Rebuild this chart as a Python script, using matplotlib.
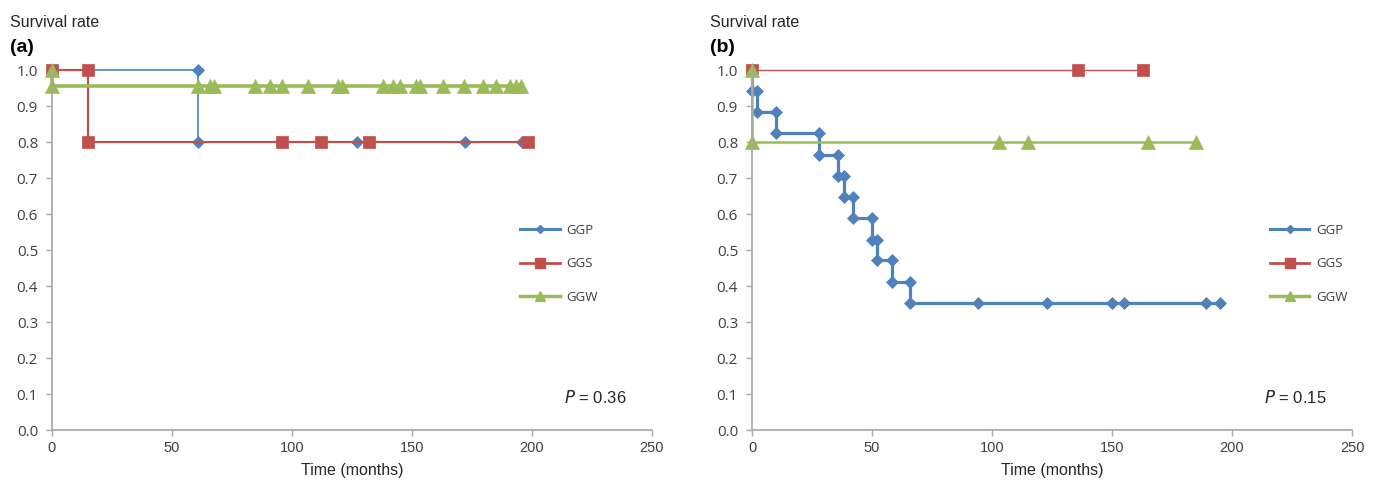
import matplotlib
matplotlib.use("Agg")
import matplotlib.pyplot as plt
from matplotlib.lines import Line2D

# ---------------- data ----------------
series_names = ["GGP", "GGS", "GGW"]
x_ticks = [0, 50, 100, 150, 200, 250]
y_ticks = [0.0, 0.1, 0.2, 0.3, 0.4, 0.5, 0.6, 0.7, 0.8, 0.9, 1.0]

# panel (a)
a_ggp_t = [0, 61, 61, 127, 172, 196]
a_ggp_s = [1.0, 1.0, 0.8, 0.8, 0.8, 0.8]
a_ggs_t = [0, 15, 15, 96, 112, 132, 198.5]
a_ggs_s = [1.0, 1.0, 0.8, 0.8, 0.8, 0.8, 0.8]
a_ggw_t = [0, 0, 61, 66, 67.5, 84.5, 91, 96, 106.5, 119, 121, 138, 142, 145,
           151.5, 153.5, 163, 171.5, 179.5, 185, 191, 193.5, 195.5]
a_ggw_s = [1.0, 0.955, 0.955, 0.955, 0.955, 0.955, 0.955, 0.955, 0.955, 0.955,
           0.955, 0.955, 0.955, 0.955, 0.955, 0.955, 0.955, 0.955, 0.955, 0.955,
           0.955, 0.955, 0.955]
a_pvalue = "0.36"

# panel (b)
b_ggp_t = [0, 0, 2, 2, 10, 10, 28, 28, 36, 36, 38.5, 38.5, 42, 42, 50, 50,
           52, 52, 58.5, 58.5, 66, 66, 94, 123, 150, 155, 189, 195]
b_ggp_s = [1.0, 0.941, 0.941, 0.882, 0.882, 0.824, 0.824, 0.765, 0.765, 0.706,
           0.706, 0.647, 0.647, 0.588, 0.588, 0.529, 0.529, 0.471, 0.471, 0.412,
           0.412, 0.353, 0.353, 0.353, 0.353, 0.353, 0.353, 0.353]
b_ggs_t = [0, 136, 163]
b_ggs_s = [1.0, 1.0, 1.0]
b_ggw_t = [0, 0, 103, 115, 165, 185]
b_ggw_s = [1.0, 0.8, 0.8, 0.8, 0.8, 0.8]
b_pvalue = "0.15"

# ---------------- style ----------------
BLUE = "#4F81BD"
RED = "#C0504D"
GREEN = "#9BBB59"
AXC = "#A6A6A6"
TXT = "#404040"

W, H = 1379, 483
fig = plt.figure(figsize=(W / 100, H / 100), dpi=100)


def px_axes(left, right, top, bottom):
    return fig.add_axes([left / W, 1 - bottom / H, (right - left) / W, (bottom - top) / H])


def style_axes(ax):
    ax.set_xlim(0, 250)
    ax.set_ylim(0, 1.0)
    ax.set_xticks(x_ticks)
    ax.set_yticks(y_ticks)
    ax.set_yticklabels([f"{v:.1f}" for v in y_ticks], fontfamily="Open Sans",
                       fontsize=11, color=TXT)
    ax.set_xticklabels([str(v) for v in x_ticks], fontfamily="Liberation Sans",
                       fontsize=10.5, color=TXT)
    for s in ["top", "right"]:
        ax.spines[s].set_visible(False)
    for s in ["left", "bottom"]:
        ax.spines[s].set_color(AXC)
        ax.spines[s].set_linewidth(1.2)
    ax.tick_params(axis="both", direction="out", length=4, width=1, color=AXC)
    ax.tick_params(axis="y", pad=6)
    ax.tick_params(axis="x", pad=4)
    ax.set_xlabel("Time (months)", fontfamily="Liberation Sans", fontsize=11.5,
                  color="#262626", labelpad=6)


def draw_panel(ax, data, lws, pval, leg_x):
    styles = [("D", 6.2, BLUE), ("s", 8.5, RED), ("^", 9.5, GREEN)]
    for (t, s), lw, (mk, ms, c), name in zip(data, lws, styles, series_names):
        ax.plot(t, s, color=c, lw=lw, marker=mk, ms=ms, mfc=c, mec=c,
                mew=0.5, clip_on=False, label=name)
    lh = [Line2D([], [], color=BLUE, lw=2.2, marker="D", ms=4.5, mfc=BLUE, mec=BLUE),
          Line2D([], [], color=RED, lw=2.0, marker="s", ms=7, mfc=RED, mec=RED),
          Line2D([], [], color=GREEN, lw=2.5, marker="^", ms=6.5, mfc=GREEN, mec=GREEN)]
    leg = ax.legend(lh, series_names, loc="upper left", bbox_to_anchor=(leg_x, 0.573),
                    frameon=False, handlelength=3.0, handletextpad=0.5,
                    labelspacing=1.55, borderpad=0, borderaxespad=0,
                    prop={"family": "Open Sans", "size": 9.5})
    for tx in leg.get_texts():
        tx.set_color(TXT)
    ax.text(0.958, 0.09, f"$\\it{{P}}$ = {pval}", transform=ax.transAxes,
            ha="right", va="center", fontsize=12, fontfamily="Liberation Sans",
            color="#262626")


ax1 = px_axes(52, 652, 70, 430)
style_axes(ax1)
draw_panel(ax1, [(a_ggp_t, a_ggp_s), (a_ggs_t, a_ggs_s), (a_ggw_t, a_ggw_s)],
           [1.2, 1.6, 2.6], a_pvalue, 0.78)

ax2 = px_axes(752, 1352, 70, 430)
style_axes(ax2)
draw_panel(ax2, [(b_ggp_t, b_ggp_s), (b_ggs_t, b_ggs_s), (b_ggw_t, b_ggw_s)],
           [2.3, 1.0, 1.8], b_pvalue, 0.863)

for x0, letter in [(10, "(a)"), (710, "(b)")]:
    fig.text(x0 / W, 1 - 27 / H, "Survival rate", fontfamily="Liberation Sans",
             fontsize=11.5, color="#262626", va="baseline", ha="left")
    fig.text(x0 / W, 1 - 52 / H, letter, fontfamily="Liberation Sans",
             fontsize=14, fontweight="bold", color="black", va="baseline", ha="left")

fig.savefig("out.png", dpi=100)
